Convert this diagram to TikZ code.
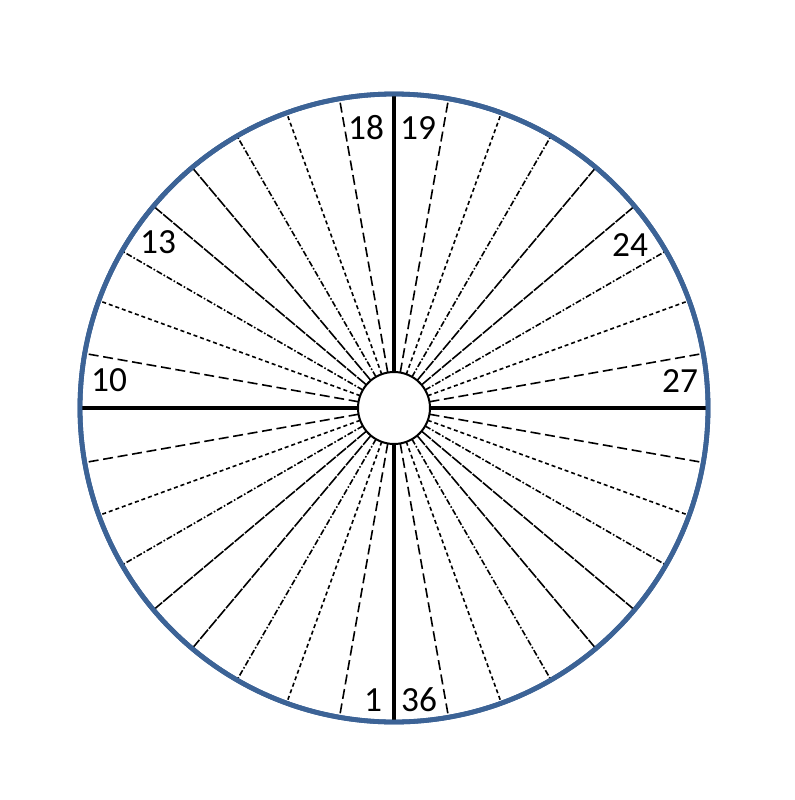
\documentclass[tikz,border=0pt]{standalone}
\usepackage{fontspec}
\setmainfont{Carlito}
\definecolor{rimblue}{RGB}{60,99,150}
\begin{document}
\begin{tikzpicture}[x=0.75pt,y=0.75pt,
  rim/.style={circle,draw=rimblue,line width=3.6pt,minimum size=471pt,inner sep=0pt,outer sep=0pt},
  hub/.style={circle,draw=black,line width=1.5pt,fill=white,minimum size=54pt,inner sep=0pt,outer sep=0pt},
  axisline/.style={line width=2.3pt},
  spk/.style={line width=1.2pt},
  sp1/.style={spk,dash pattern=on 7.5pt off 3.5pt},
  sp2/.style={spk,dash pattern=on 3pt off 2.2pt},
  sp3/.style={spk,dash pattern=on 4.5pt off 1.5pt on 1.2pt off 1.5pt},
  sp4/.style={spk,dash pattern=on 9pt off 1pt},
  num/.style={font=\fontsize{26.5}{26.5}\selectfont,inner sep=0pt}]
\useasboundingbox (0,0) rectangle (794,-800);
\node[rim] (o) at (394,-408) {};
\node[hub] (c) at (394,-408) {};
\foreach \q in {0,1,2,3}{
  \foreach \k in {1,...,8}{
    \pgfmathtruncatemacro{\s}{min(\k,9-\k)}
    \pgfmathtruncatemacro{\a}{90*\q+10*\k}
    \draw[sp\s] (c.\a) -- (o.\a);
  }
}
\foreach \a in {0,90,180,270}{
  \draw[axisline] (c.\a) -- (o.\a);
}
\node[rim] (o2) at (394,-408) {};
\node[num] (n18) at (366,-128) {18};
\node[num] (n19) at (418,-128) {19};
\node[num] (n13) at (158,-242) {13};
\node[num] (n24) at (630,-245) {24};
\node[num] (n10) at (109,-380) {10};
\node[num] (n27) at (680,-381) {27};
\node[num] (n1) at (373,-700) {1};
\node[num] (n36) at (419,-700) {36};
\end{tikzpicture}
\end{document}
